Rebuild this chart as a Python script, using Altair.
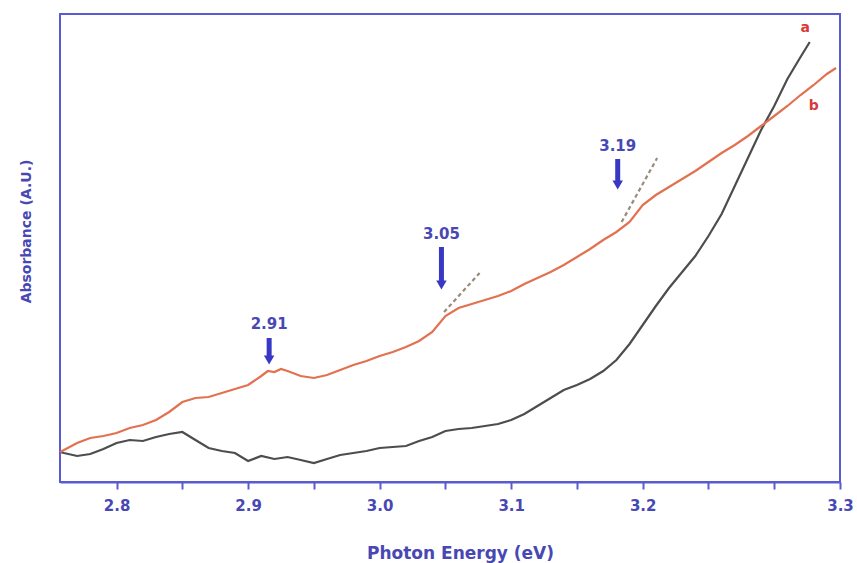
import json
import altair as alt
import pandas as pd

# ---- data ----
energy_b = [2.757, 2.76, 2.77, 2.78, 2.79, 2.80, 2.81, 2.82, 2.83, 2.84, 2.85, 2.86, 2.87, 2.88, 2.89,
            2.90, 2.91, 2.915, 2.92, 2.925, 2.93, 2.94, 2.95, 2.96, 2.97, 2.98, 2.99, 3.00, 3.01, 3.02,
            3.03, 3.04, 3.05, 3.06, 3.07, 3.08, 3.09, 3.10, 3.11, 3.12, 3.13, 3.14, 3.15, 3.16, 3.17,
            3.18, 3.19, 3.20, 3.21, 3.22, 3.23, 3.24, 3.25, 3.26, 3.27, 3.28, 3.29, 3.30, 3.31, 3.32,
            3.33, 3.34, 3.347]
absorb_b = [0.30, 0.32, 0.39, 0.44, 0.46, 0.49, 0.54, 0.57, 0.62, 0.70, 0.80, 0.84, 0.85, 0.89, 0.93,
            0.97, 1.06, 1.11, 1.10, 1.13, 1.11, 1.06, 1.04, 1.07, 1.12, 1.17, 1.21, 1.26, 1.30, 1.35,
            1.41, 1.50, 1.66, 1.74, 1.78, 1.82, 1.86, 1.91, 1.98, 2.04, 2.10, 2.17, 2.25, 2.33, 2.42,
            2.50, 2.60, 2.77, 2.87, 2.95, 3.03, 3.11, 3.20, 3.29, 3.37, 3.46, 3.56, 3.66, 3.76, 3.87,
            3.97, 4.08, 4.14]

energy_a = [2.757, 2.76, 2.77, 2.78, 2.79, 2.80, 2.81, 2.82, 2.83, 2.84, 2.85, 2.86, 2.87, 2.88, 2.89,
            2.90, 2.91, 2.92, 2.93, 2.94, 2.95, 2.96, 2.97, 2.98, 2.99, 3.00, 3.01, 3.02, 3.03, 3.04,
            3.05, 3.06, 3.07, 3.08, 3.09, 3.10, 3.11, 3.12, 3.13, 3.14, 3.15, 3.16, 3.17, 3.18, 3.19,
            3.20, 3.21, 3.22, 3.23, 3.24, 3.25, 3.26, 3.27, 3.28, 3.29, 3.30, 3.31, 3.32, 3.327]
absorb_a = [0.30, 0.29, 0.26, 0.28, 0.33, 0.39, 0.42, 0.41, 0.45, 0.48, 0.50, 0.42, 0.34, 0.31, 0.29,
            0.21, 0.26, 0.23, 0.25, 0.22, 0.19, 0.23, 0.27, 0.29, 0.31, 0.34, 0.35, 0.36, 0.41, 0.45,
            0.51, 0.53, 0.54, 0.56, 0.58, 0.62, 0.68, 0.76, 0.84, 0.92, 0.97, 1.03, 1.11, 1.22, 1.38,
            1.57, 1.76, 1.94, 2.10, 2.26, 2.46, 2.68, 2.96, 3.24, 3.52, 3.76, 4.03, 4.25, 4.40]

arrow_energy = [2.916, 3.047, 3.181]
arrow_top = [1.44, 2.35, 3.23]
arrow_tip = [1.17, 1.92, 2.92]
arrow_label = ["2.91", "3.05", "3.19"]
arrow_label_y = [1.58, 2.48, 3.36]

tangent_id = ["t1", "t1", "t2", "t2"]
tangent_energy = [3.049, 3.076, 3.184, 3.211]
tangent_absorb = [1.70, 2.09, 2.60, 3.24]

curve_tag = ["a", "b"]
curve_tag_energy = [3.3236, 3.330]
curve_tag_absorb = [4.54, 3.76]

x_tick_values = [2.80, 2.85, 2.90, 2.95, 3.00, 3.05, 3.10, 3.15, 3.20, 3.25, 3.30, 3.35]
x_tick_labels = ["2.8", "", "2.9", "", "3.0", "", "3.1", "", "3.2", "", "", "3.3"]

X_DOMAIN = [2.757, 3.35]
Y_DOMAIN = [0, 4.68]

BLUE_FRAME = "#5a5ad2"
BLUE_TEXT = "#4848b4"
ARROW_BLUE = "#3838c4"
RED = "#d83a3a"
FONT = "DejaVu Sans"

df_lines = pd.concat([
    pd.DataFrame({"energy": energy_a, "absorbance": absorb_a, "curve": "a"}),
    pd.DataFrame({"energy": energy_b, "absorbance": absorb_b, "curve": "b"}),
])
df_arrows = pd.DataFrame({"energy": arrow_energy, "top": arrow_top, "tip": arrow_tip,
                          "label": arrow_label, "label_y": arrow_label_y})
df_arrows["shaft_end"] = df_arrows["tip"] + 0.08
df_tan = pd.DataFrame({"id": tangent_id, "energy": tangent_energy, "absorbance": tangent_absorb})
df_tags = pd.DataFrame({"tag": curve_tag, "energy": curve_tag_energy, "absorbance": curve_tag_absorb})

label_expr = f"{json.dumps(x_tick_labels)}[round((datum.value - 2.8) / 0.05)]"

xscale = alt.Scale(domain=X_DOMAIN, nice=False, zero=False)
yscale = alt.Scale(domain=Y_DOMAIN, nice=False, zero=False)

x_enc = alt.X("energy:Q", scale=xscale, axis=alt.Axis(
    title="Photon Energy (eV)", values=x_tick_values, labelExpr=label_expr,
    grid=False, domainColor=BLUE_FRAME, domainWidth=2, tickColor=BLUE_FRAME, tickWidth=2,
    tickSize=7, labelFont=FONT, labelFontWeight="bold", labelFontSize=15, labelColor=BLUE_TEXT,
    labelPadding=9, labelFlush=False, labelOverlap=False,
    titleFont=FONT, titleFontWeight="bold", titleFontSize=17, titleColor=BLUE_TEXT,
    titleX=400, titleY=76, titleBaseline="alphabetic", titleAnchor="middle"))
y_axis = alt.Axis(title="Absorbance (A.U.)", labels=False, ticks=False, domain=False, grid=False,
                  titleFont=FONT, titleFontWeight="bold", titleFontSize=14, titleColor=BLUE_TEXT,
                  titleX=-34, titleY=217, titleAngle=270, titleAlign="center", titleBaseline="middle")

lines = alt.Chart(df_lines).mark_line(strokeWidth=2.2).encode(
    x=x_enc,
    y=alt.Y("absorbance:Q", scale=yscale, axis=y_axis),
    color=alt.Color("curve:N", scale=alt.Scale(domain=["a", "b"], range=["#4d4d4d", "#e2714f"]), legend=None),
    order=alt.Order("energy:Q"),
)

tangents = alt.Chart(df_tan).mark_line(strokeWidth=2.2, strokeDash=[4, 3], color="#9a8a7a").encode(
    x=alt.X("energy:Q", scale=xscale),
    y=alt.Y("absorbance:Q", scale=yscale),
    detail="id:N",
)

shafts = alt.Chart(df_arrows).mark_rule(strokeWidth=5, color=ARROW_BLUE).encode(
    x=alt.X("energy:Q", scale=xscale),
    y=alt.Y("top:Q", scale=yscale),
    y2=alt.Y2("shaft_end:Q"),
)
heads = alt.Chart(df_arrows).mark_point(shape="triangle-down", filled=True, size=110, color=ARROW_BLUE,
                                        opacity=1, yOffset=-5).encode(
    x=alt.X("energy:Q", scale=xscale),
    y=alt.Y("tip:Q", scale=yscale),
)
arrow_text = alt.Chart(df_arrows).mark_text(font=FONT, fontWeight="bold", fontSize=15, color=BLUE_TEXT,
                                            baseline="middle", align="center").encode(
    x=alt.X("energy:Q", scale=xscale),
    y=alt.Y("label_y:Q", scale=yscale),
    text="label:N",
)
tags = alt.Chart(df_tags).mark_text(font=FONT, fontWeight="bold", fontSize=14, color=RED,
                                    baseline="middle", align="center").encode(
    x=alt.X("energy:Q", scale=xscale),
    y=alt.Y("absorbance:Q", scale=yscale),
    text="tag:N",
)

chart = alt.layer(lines, tangents, shafts, heads, arrow_text, tags).properties(
    width=780, height=468,
    autosize=alt.AutoSizeParams(type="none"),
    padding={"left": 60, "top": 14, "right": 17, "bottom": 81},
    background="white",
).configure_view(stroke=BLUE_FRAME, strokeWidth=2)

chart.save("out.html", embed_options={"renderer": "svg", "actions": False})
